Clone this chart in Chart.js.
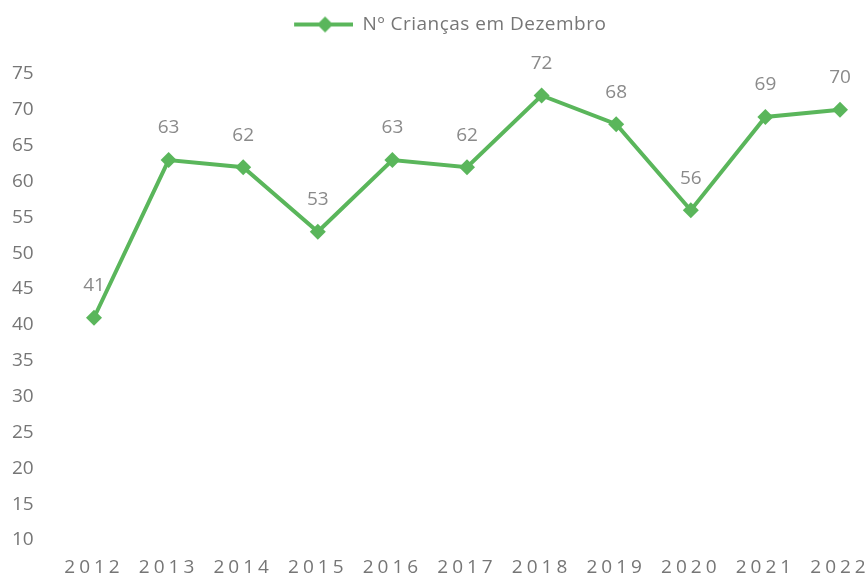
<!DOCTYPE html>
<html>
<head>
<meta charset="utf-8">
<script src="https://cdn.jsdelivr.net/npm/chart.js@4.4.1/dist/chart.umd.min.js"></script>
<style>
  html, body { margin: 0; padding: 0; background: #fff; }
  #wrap { width: 867px; height: 579px; position: relative; }
</style>
</head>
<body>
<div id="wrap"><canvas id="chart"></canvas></div>
<script>
  // Labels along the x-axis
  const years = ['2012', '2013', '2014', '2015', '2016', '2017', '2018', '2019', '2020', '2021', '2022'];
  // Number of children in December
  const children = [41, 63, 62, 53, 63, 62, 72, 68, 56, 69, 70];
  const seriesLabel = 'Nº Crianças em Dezembro';

  const green = '#5ab65b';
  const textGray = '#767676';
  const fontFamily = "'Open Sans', 'Noto Sans', sans-serif";
  const fontSize = 19;

  // legend marker: a short line with a diamond on it (blank room on the left
  // pushes the legend a bit right, like in the original)
  const legendMark = document.createElement('canvas');
  legendMark.width = 96;
  legendMark.height = 18;
  {
    const c = legendMark.getContext('2d');
    c.strokeStyle = green;
    c.lineWidth = 4;
    c.beginPath();
    c.moveTo(37, 9);
    c.lineTo(96, 9);
    c.stroke();
    c.fillStyle = green;
    c.beginPath();
    c.moveTo(68, 1);
    c.lineTo(76, 9);
    c.lineTo(68, 17);
    c.lineTo(60, 9);
    c.closePath();
    c.fill();
  }

  // values written above each point
  const valueLabels = {
    id: 'valueLabels',
    afterDatasetsDraw(chart) {
      const ctx = chart.ctx;
      const meta = chart.getDatasetMeta(0);
      ctx.save();
      ctx.font = fontSize + 'px ' + fontFamily;
      ctx.fillStyle = '#8a8a8a';
      ctx.textAlign = 'center';
      ctx.textBaseline = 'middle';
      meta.data.forEach((pt, i) => {
        ctx.fillText(String(children[i]), pt.x, pt.y - 32);
      });
      ctx.restore();
    }
  };

  // letter spacing for year labels and legend, fixed legend height
  const tweaks = {
    id: 'tweaks',
    beforeInit(chart) {
      const lg = chart.legend;
      const fit = lg.fit.bind(lg);
      lg.fit = function () {
        fit();
        this.height = 74;
      };
      const draw = lg.draw.bind(lg);
      lg.draw = function () {
        chart.ctx.save();
        chart.ctx.letterSpacing = '0.5px';
        draw();
        chart.ctx.restore();
      };
    },
    beforeDraw(chart) {
      const s = chart.scales.x;
      if (s && !s._spaced) {
        const orig = s.drawLabels.bind(s);
        s.drawLabels = function (area) {
          chart.ctx.save();
          chart.ctx.letterSpacing = '4px';
          orig(area);
          chart.ctx.restore();
        };
        s._spaced = true;
      }
    }
  };

  const ctx = document.getElementById('chart');
  new Chart(ctx, {
    type: 'line',
    data: {
      labels: years,
      datasets: [
        {
          label: seriesLabel,
          data: children,
          borderColor: green,
          backgroundColor: green,
          borderWidth: 4,
          pointStyle: 'rectRot',
          pointRadius: 8,
          pointBackgroundColor: green,
          pointBorderColor: green,
          pointBorderWidth: 0,
          fill: false,
          tension: 0
        }
      ]
    },
    options: {
      responsive: true,
      maintainAspectRatio: false,
      animation: false,
      layout: { padding: { top: 0, right: 27, left: 12, bottom: 0 } },
      plugins: {
        legend: {
          position: 'top',
          labels: {
            usePointStyle: true,
            pointStyle: legendMark,
            pointStyleWidth: 96,
            color: textGray,
            font: { family: fontFamily, size: fontSize },
            padding: 15
          }
        },
        tooltip: { enabled: false }
      },
      scales: {
        x: {
          grid: { display: false, drawTicks: false },
          border: { display: false },
          afterFit(scale) {
            scale.height = 39;
            scale.paddingLeft = 0;
            scale.paddingRight = 0;
          },
          ticks: {
            color: textGray,
            font: { family: fontFamily, size: fontSize },
            padding: 16,
            maxRotation: 0
          }
        },
        y: {
          min: 10,
          max: 75,
          grid: { display: false, drawTicks: false },
          border: { display: false },
          afterFit(scale) { scale.width = 82; },
          ticks: {
            stepSize: 5,
            color: textGray,
            font: { family: fontFamily, size: fontSize },
            crossAlign: 'far',
            padding: 4
          }
        }
      }
    },
    plugins: [valueLabels, tweaks]
  });
</script>
</body>
</html>
